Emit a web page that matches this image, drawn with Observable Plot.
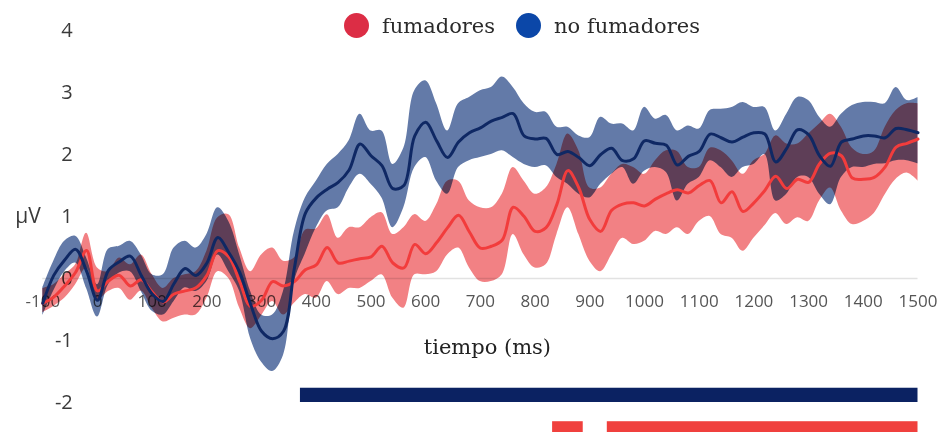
<!DOCTYPE html>
<html>
<head>
<meta charset="utf-8">
<script src="https://cdn.jsdelivr.net/npm/d3@7"></script>
<script src="https://cdn.jsdelivr.net/npm/@observablehq/plot@0.6"></script>
<style>
  html, body { margin: 0; padding: 0; background: #fff; }
  #wrap { position: relative; width: 939px; height: 432px; overflow: hidden; }
  #legend { position: absolute; top: 13px; left: 344px; display: flex; align-items: center;
            font-family: "DejaVu Serif", serif; font-size: 21px; color: #2a2a2a; }
  #legend .sw { width: 25px; height: 25px; border-radius: 50%; margin-right: 13px; }
  #legend .item { display: flex; align-items: center; margin-right: 21px; }
</style>
</head>
<body>
<div id="wrap"></div>
<script>
// sample times (ms)
const times = [-100,-80,-60,-40,-20,0,20,40,60,80,100,120,140,160,180,200,220,240,260,280,
  300,320,340,360,380,400,420,440,460,480,500,520,540,560,580,600,620,640,660,680,
  700,720,740,760,780,800,820,840,860,880,900,920,940,960,980,1000,1020,1040,1060,1080,
  1100,1120,1140,1160,1180,1200,1220,1240,1260,1280,1300,1320,1340,1360,1380,1400,1420,1440,1460,1480,1500];

// no fumadores (mean, lower, upper) in µV
const noFum = [-0.40,0.05,0.30,0.47,0.12,-0.35,0.13,0.27,0.36,0.05,
  -0.25,-0.37,-0.08,0.16,0.05,0.25,0.66,0.42,0.10,-0.42,
  -0.85,-0.97,-0.85,0.17,1.05,1.30,1.44,1.55,1.75,2.17,
  1.98,1.82,1.45,1.50,2.30,2.52,2.22,1.95,2.20,2.35,
  2.43,2.54,2.60,2.66,2.30,2.25,2.26,2.00,2.05,1.95,
  1.82,2.00,2.10,1.90,1.93,2.22,2.18,2.15,1.83,1.97,
  2.05,2.33,2.27,2.20,2.28,2.35,2.33,1.88,2.10,2.40,
  2.32,1.98,1.81,2.20,2.25,2.30,2.30,2.27,2.42,2.40,2.35];
const noFumHi = [-0.15,0.28,0.60,0.68,0.33,-0.10,0.47,0.52,0.60,0.38,
  0.06,0.06,0.49,0.60,0.49,0.71,1.14,0.92,0.38,-0.21,
  -0.59,-0.59,-0.21,0.76,1.30,1.57,1.84,2.00,2.22,2.65,
  2.38,2.38,1.84,2.10,3.03,3.19,2.82,2.38,2.82,2.92,
  3.03,3.08,3.25,3.08,2.82,2.68,2.68,2.44,2.44,2.30,
  2.27,2.60,2.49,2.49,2.38,2.76,2.57,2.63,2.38,2.46,
  2.41,2.71,2.73,2.76,2.84,2.76,2.76,2.38,2.65,2.92,
  2.87,2.60,2.44,2.65,2.79,2.84,2.84,2.82,3.08,2.87,2.92];
const noFumLo = [-0.60,-0.20,0.11,0.25,-0.16,-0.62,-0.10,0.09,0.11,-0.21,
  -0.53,-0.59,-0.37,-0.15,-0.21,-0.05,0.38,0.11,-0.21,-0.97,
  -1.35,-1.50,-1.24,-0.05,0.40,0.82,1.09,1.14,1.46,1.68,
  1.52,1.30,0.82,1.14,1.79,1.95,1.57,1.36,1.79,1.90,
  1.95,2.00,2.06,1.95,1.84,1.79,1.82,1.63,1.52,1.36,
  1.30,1.52,1.68,1.79,1.52,1.73,1.79,1.71,1.25,1.52,
  1.63,1.90,1.79,1.63,1.79,1.84,2.00,1.25,1.36,1.63,
  1.63,1.36,1.19,1.63,1.79,1.79,1.84,1.85,1.90,1.90,1.85];

// fumadores (mean, lower, upper) in µV
const fum = [-0.40,-0.30,-0.12,0.10,0.45,-0.20,-0.04,0.05,-0.12,-0.02,
  -0.22,-0.38,-0.25,-0.20,-0.15,0.05,0.45,0.35,-0.05,-0.45,
  -0.35,-0.05,-0.12,-0.05,0.14,0.22,0.50,0.25,0.28,0.32,
  0.35,0.52,0.25,0.17,0.55,0.40,0.58,0.82,1.02,0.75,
  0.49,0.52,0.62,1.15,1.00,0.76,0.82,1.20,1.74,1.46,
  0.95,0.76,1.10,1.20,1.22,1.17,1.28,1.37,1.43,1.38,
  1.50,1.58,1.22,1.40,1.08,1.22,1.42,1.65,1.45,1.60,
  1.55,1.85,2.02,1.98,1.62,1.60,1.63,1.80,2.12,2.18,2.25];
const fumHi = [-0.16,-0.10,0.06,0.22,0.73,0.17,0.11,0.33,0.22,0.38,
  0.06,-0.16,0.00,0.06,0.11,0.44,0.98,1.03,0.49,0.11,
  0.38,0.49,0.28,0.33,0.78,0.80,1.03,0.65,0.82,0.82,
  0.98,1.06,0.71,0.82,1.03,0.92,1.19,1.57,1.57,1.25,
  1.14,1.14,1.36,1.79,1.57,1.36,1.46,1.84,2.33,2.06,
  1.46,1.46,1.68,1.84,1.79,1.68,1.90,2.06,2.05,1.79,
  1.79,2.10,2.06,1.90,1.68,1.90,2.00,2.30,2.17,2.17,
  2.33,2.49,2.65,2.44,2.10,2.00,2.05,2.44,2.71,2.82,2.82];
const fumLo = [-0.55,-0.45,-0.32,-0.10,0.17,-0.35,-0.21,-0.16,-0.35,-0.20,
  -0.48,-0.70,-0.64,-0.59,-0.59,-0.32,0.11,0.00,-0.48,-0.81,
  -0.60,-0.37,-0.59,-0.40,-0.26,-0.32,-0.05,-0.26,-0.16,-0.16,
  -0.05,0.06,-0.32,-0.48,0.06,0.06,0.11,0.38,0.49,0.17,
  -0.05,-0.05,0.06,0.71,0.38,0.17,0.22,0.71,1.14,0.71,
  0.28,0.11,0.38,0.65,0.55,0.60,0.76,0.71,0.82,0.71,
  0.92,1.00,0.71,0.65,0.44,0.65,0.85,1.05,0.87,0.98,
  0.92,1.25,1.46,1.09,0.87,0.92,1.05,1.35,1.60,1.70,1.57];

// significance intervals (ms)
const sigNoFum = [{start: 371, end: 1500}];
const sigFum = [{start: 832, end: 888}, {start: 932, end: 1500}];

// ticks and labels
const xTicks = [-100,0,100,200,300,400,500,600,700,800,900,1000,1100,1200,1300,1400,1500];
const yTicks = [-2,-1,0,1,2,3,4];
const seriesNames = ["fumadores", "no fumadores"];
const legendColors = ["#dc2d45", "#0b47a8"];
const yLabel = "µV";
const xLabel = "tiempo (ms)";

const rows = times.map((t, i) => ({
  t, noFum: noFum[i], noFumLo: noFumLo[i], noFumHi: noFumHi[i],
  fum: fum[i], fumLo: fumLo[i], fumHi: fumHi[i]
}));

const sans = "'Open Sans', sans-serif";
const serif = "'DejaVu Serif', serif";

const chart = Plot.plot({
  width: 939,
  height: 432,
  marginLeft: 42.3,
  marginRight: 21.5,
  marginTop: 30,
  marginBottom: 30,
  x: {domain: [-100, 1500], axis: null},
  y: {domain: [-2, 4], axis: null},
  style: {background: "transparent", overflow: "visible"},
  marks: [
    Plot.ruleY([0], {stroke: "#e2e2e2", strokeWidth: 1.5}),
    Plot.text(yTicks, {y: d => d, text: d => String(d), frameAnchor: "left", textAnchor: "end",
      dx: 30, fontSize: 20, fontFamily: sans, fill: "#3a3a3a"}),
    Plot.text([yLabel], {y: 1, text: d => d, frameAnchor: "left", textAnchor: "end",
      dx: -2, fontSize: 21, fontFamily: sans, fill: "#3a3a3a"}),
    Plot.text(xTicks, {x: d => d, y: 0, text: d => String(d), dy: 23, fontSize: 17,
      fontFamily: sans, fill: "#555"}),
    Plot.text([xLabel], {text: d => d, frameAnchor: "bottom", dy: -49, dx: 7, fontSize: 21,
      fontFamily: serif, fill: "#222"}),
    Plot.areaY(rows, {x: "t", y1: "fumLo", y2: "fumHi", fill: "#f28184", curve: "catmull-rom",
      mixBlendMode: "multiply"}),
    Plot.areaY(rows, {x: "t", y1: "noFumLo", y2: "noFumHi", fill: "#637aa8", curve: "catmull-rom",
      mixBlendMode: "multiply"}),
    Plot.lineY(rows, {x: "t", y: "fum", stroke: "#f23c3c", strokeWidth: 3, curve: "catmull-rom"}),
    Plot.lineY(rows, {x: "t", y: "noFum", stroke: "#0f2864", strokeWidth: 3, curve: "catmull-rom"}),
    Plot.rect(sigNoFum, {x1: "start", x2: "end", y1: -1.77, y2: -2.0, fill: "#0b2262"}),
    Plot.rect(sigFum, {x1: "start", x2: "end", y1: -2.31, y2: -2.6, fill: "#f0403d"})
  ]
});

const wrap = document.getElementById("wrap");
wrap.appendChild(chart);

const legend = document.createElement("div");
legend.id = "legend";
seriesNames.forEach((name, i) => {
  const item = document.createElement("div");
  item.className = "item";
  const sw = document.createElement("span");
  sw.className = "sw";
  sw.style.background = legendColors[i];
  const label = document.createElement("span");
  label.textContent = name;
  item.appendChild(sw);
  item.appendChild(label);
  legend.appendChild(item);
});
wrap.appendChild(legend);
</script>
</body>
</html>
